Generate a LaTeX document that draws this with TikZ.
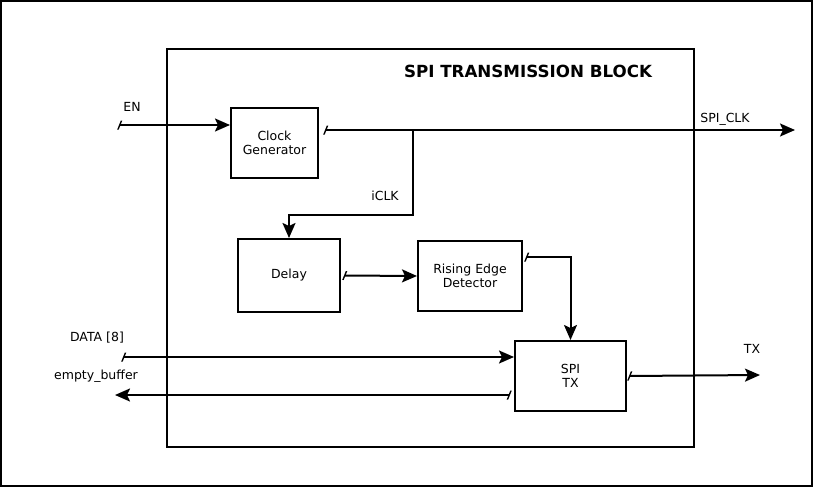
\documentclass[tikz,border=0pt]{standalone}
\usepackage{fontspec}
\setmainfont{DejaVu Sans}
\usetikzlibrary{arrows.meta}

\tikzset{
  blk/.style={draw, line width=2pt, inner sep=0pt, align=center},
  wire/.style={line width=2pt, -{Stealth[length=15pt,width=13pt,inset=3pt]}},
  sig/.style={wire, {Bar[width=9pt,slant=0.4,line width=1.5pt]}-{Stealth[length=15pt,width=13pt,inset=3pt]}},
  lbl/.style={inner sep=0pt}
}

\begin{document}
\begin{tikzpicture}[x=1pt, y=-1pt, font=\fontsize{12.5}{14.5}\selectfont]

    % Frames
    \useasboundingbox (0,0) rectangle (813,487);
    \draw[line width=1.8pt] (1,1) rectangle (812,486);
    \draw[line width=2.2pt] (167,49) rectangle (694,447);
    \node[lbl, font=\fontsize{16.7}{19}\selectfont\bfseries] (title) at (528,71) {SPI TRANSMISSION BLOCK};

    % Blocks
    \node[blk, minimum width=87pt, minimum height=70pt] (clkgen) at (274.5,143) {Clock\\Generator};
    \node[blk, minimum width=102pt, minimum height=73pt] (delay) at (289,275.5) {Delay};
    \node[blk, minimum width=104pt, minimum height=70pt] (red) at (470,276) {Rising Edge\\Detector};
    \node[blk, minimum width=111pt, minimum height=70pt] (spitx) at (570.5,376) {SPI\\TX};

    % Free ends
    \coordinate (en) at (119,125);
    \coordinate (spiclk) at (795,130);
    \coordinate (tap) at (413,130);
    \coordinate (data) at (123,357);
    \coordinate (empty) at (115,395);
    \coordinate (tx) at (760,375);

    % Clock
    \draw[sig] (en) -- (en -| clkgen.west);
    \draw[sig] ([xshift=6pt]clkgen.east |- spiclk) -- (spiclk);
    \draw[wire] (tap) |- ([yshift=23pt]delay.north) -- (delay.north);

    % Data path
    \draw[sig] ([xshift=3pt]delay.east) -- (red.west);
    \draw[sig] ([xshift=3pt,yshift=-17pt]red.north east) -| (spitx.north);
    \draw[sig] (data) -- (data -| spitx.west);
    \draw[sig] ([xshift=-4pt]empty -| spitx.west) -- (empty);
    \draw[sig] ([xshift=2pt]spitx.east) -- (tx);

    % Labels
    \node[lbl] (enlbl) at (132,107) {EN};
    \node[lbl] (spiclklbl) at (725,119) {SPI\_CLK};
    \node[lbl] (iclklbl) at (385,196) {iCLK};
    \node[lbl] (datalbl) at (97,338) {DATA [8]};
    \node[lbl] (emptylbl) at (96,376) {empty\_buffer};
    \node[lbl] (txlbl) at (752,349) {TX};

\end{tikzpicture}
\end{document}
